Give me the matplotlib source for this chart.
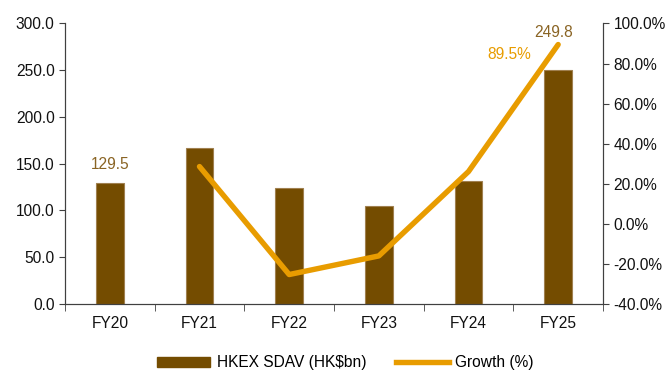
import numpy as np
import matplotlib.pyplot as plt
from matplotlib.lines import Line2D
from matplotlib.patches import Patch

plt.rcParams['font.family'] = ['Liberation Sans', 'DejaVu Sans']

years = ['FY20', 'FY21', 'FY22', 'FY23', 'FY24', 'FY25']
sdav = [129.5, 166.5, 124.4, 104.5, 131.8, 249.8]
growth = [np.nan, 28.6, -25.3, -16.0, 26.1, 89.5]

bar_color = '#744C00'
line_color = '#E89C00'
spine_color = '#404040'
fs = 11.2

fig = plt.figure(figsize=(6.68, 3.73), dpi=100)
ax = fig.add_axes([0.0973, 0.185, 0.8054, 0.752])
ax2 = ax.twinx()

x = np.arange(len(years))
ax.bar(x, sdav, width=0.31, color=bar_color, edgecolor='#A08050', linewidth=0.8, zorder=2)
ax2.plot(x, growth, color=line_color, linewidth=3.9, solid_capstyle='round', solid_joinstyle='round', zorder=3)

ax.set_xlim(-0.5, 5.5)
ax.set_ylim(0, 300)
ax2.set_ylim(-40, 100)
ax.set_yticks(np.arange(0, 301, 50))
ax.set_yticklabels([f'{v:.1f}' for v in np.arange(0, 301, 50)])
ax2.set_yticks(np.arange(-40, 101, 20))
ax2.set_yticklabels([f'{v:.1f}%' for v in np.arange(-40, 101, 20)])

# category labels centred, tick marks between categories
ax.set_xticks(x)
ax.set_xticklabels(years)
ax.tick_params(axis='x', length=0, pad=9)
ax.set_xticks(np.arange(-0.5, 6, 1), minor=True)
ax.tick_params(axis='x', which='minor', length=5, color=spine_color, direction='out')

for a in (ax, ax2):
    for s in a.spines.values():
        s.set_color(spine_color)
    a.spines['top'].set_visible(False)
    a.tick_params(axis='y', length=4, color=spine_color, labelsize=fs, labelcolor='#111111')
ax.tick_params(axis='x', labelsize=fs, labelcolor='#111111')

# data labels
ax.text(x[0], sdav[0] + 12, f'{sdav[0]:.1f}', ha='center', va='bottom', color='#8A6424', fontsize=fs)
ax.text(x[5] - 0.05, sdav[5] + 33, f'{sdav[5]:.1f}', ha='center', va='bottom', color='#8A6424', fontsize=fs)
ax2.text(x[5] - 0.55, growth[5] - 5, f'{growth[5]:.1f}%', ha='center', va='center', color=line_color, fontsize=fs)

handles = [Patch(color=bar_color, label='HKEX SDAV (HK$bn)'),
           Line2D([], [], color=line_color, linewidth=3.9, label='Growth (%)')]
fig.legend(handles=handles, loc='center', bbox_to_anchor=(0.517, 0.027), ncol=2, frameon=False,
           fontsize=fs, handlelength=3.4, handleheight=0.6, columnspacing=1.9, handletextpad=0.4)

fig.savefig('out.png', dpi=100)
